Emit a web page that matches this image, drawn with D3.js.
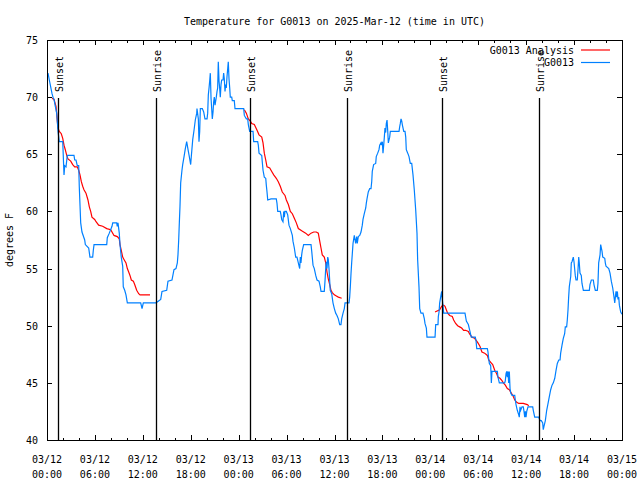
<!DOCTYPE html>
<html><head><meta charset="utf-8">
<script src="https://cdn.jsdelivr.net/npm/d3@7"></script>
<style>
body{margin:0;background:#fff}
svg{display:block}
text{font-family:"DejaVu Sans Mono","Liberation Mono",monospace;font-size:10px;fill:#000}
</style>
</head><body>
<svg id="chart" width="640" height="480"></svg>
<script>
// ---------------- DATA ----------------
const chartTitle = "Temperature for G0013 on 2025-Mar-12 (time in UTC)";
const yLabel = "degrees F";
const seriesNames = ["G0013 Analysis", "G0013"];
const seriesColors = ["#ff0000", "#0080ff"];
const startUTC = Date.UTC(2025, 2, 12, 0, 0);          // 03/12 00:00 UTC
const xTickHours = [0, 6, 12, 18, 24, 30, 36, 42, 48, 54, 60, 66, 72];
const xMinorHours = [2, 4, 8, 10, 14, 16, 20, 22, 26, 28, 32, 34, 38, 40, 44, 46, 50, 52, 56, 58, 62, 64, 68, 70];
const yTicks = [40, 45, 50, 55, 60, 65, 70, 75];
const sunLabels = ["Sunset", "Sunrise", "Sunset", "Sunrise", "Sunset", "Sunrise"];
const sunHours = [1.42, 13.69, 25.46, 37.6, 49.5, 61.65];

// observed G0013 temperature: [hours since 03/12 00:00 UTC, degF]
const observed = [
[0.13,72.1],[0.29,71.5],[0.46,70.9],[0.63,70.3],[0.75,70.0],[0.88,69.8],[1.04,69.2],[1.21,68.6],[1.29,67.9],[1.38,67.0],[1.54,66.1],[1.97,66.1],[2.13,63.2],[2.22,64.0],[2.38,63.9],[2.54,64.9],[3.38,64.9],[3.47,64.5],[3.63,64.5],[3.79,64.0],[3.97,64.0],[4.04,62.2],[4.22,59.0],[4.38,58.2],[4.72,57.5],[4.80,57.1],[5.22,56.8],[5.38,56.0],[5.72,56.0],[5.80,56.6],[5.89,57.1],[7.48,57.1],[7.55,57.7],[7.80,58.1],[8.14,58.7],[8.23,59.0],[8.73,59.0],[8.80,58.7],[8.89,59.0],[9.05,58.1],[9.14,57.1],[9.30,56.0],[9.48,55.2],[9.55,53.4],[9.73,53.1],[9.89,52.7],[10.06,52.0],[11.73,52.0],[11.90,51.5],[12.06,52.0],[13.65,52.0],[14.24,52.3],[14.40,53.0],[14.99,53.1],[15.15,53.9],[15.65,54.0],[15.90,54.9],[16.15,55.0],[16.32,55.5],[16.40,56.2],[16.49,57.5],[16.57,59.0],[16.65,60.4],[16.74,62.5],[16.90,63.6],[16.99,64.1],[17.16,64.8],[17.32,65.5],[17.49,66.1],[17.66,65.4],[17.82,64.8],[17.99,64.1],[18.07,64.8],[18.25,66.3],[18.41,67.1],[18.57,68.0],[18.75,68.6],[18.78,69.0],[18.95,68.1],[19.03,66.1],[19.12,67.0],[19.20,69.0],[19.45,69.0],[19.62,68.7],[19.78,68.1],[20.04,68.1],[20.12,68.6],[20.20,70.2],[20.29,70.8],[20.37,71.4],[20.45,72.1],[20.54,69.9],[20.62,69.0],[20.70,68.1],[20.79,68.7],[20.87,69.6],[20.95,70.0],[21.04,69.3],[21.20,70.0],[21.29,70.5],[21.37,70.8],[21.45,73.1],[21.54,71.4],[21.62,70.8],[21.70,70.0],[21.79,71.1],[21.87,71.5],[22.04,71.5],[22.12,72.1],[22.20,71.6],[22.29,70.5],[22.37,71.1],[22.45,70.8],[22.54,71.8],[22.63,72.5],[22.70,73.1],[22.79,71.6],[22.88,70.8],[22.95,70.0],[23.13,70.0],[23.20,69.7],[23.45,69.7],[23.54,69.0],[24.63,69.0],[24.71,68.4],[24.96,68.1],[25.13,68.1],[25.21,67.6],[25.38,67.0],[25.80,67.0],[25.88,66.1],[26.38,66.1],[26.46,65.8],[26.55,65.1],[26.89,64.9],[26.96,64.3],[27.05,63.6],[27.21,63.0],[27.39,62.9],[27.46,62.3],[27.55,61.7],[27.64,61.0],[28.05,61.1],[28.71,61.1],[28.80,60.7],[28.89,60.0],[29.21,60.0],[29.30,59.7],[29.39,59.3],[29.55,59.1],[29.64,60.0],[29.71,59.5],[29.80,60.0],[29.97,60.0],[30.14,59.7],[30.30,58.8],[30.47,58.5],[30.72,57.9],[30.80,57.4],[30.97,56.8],[31.14,56.0],[31.30,56.0],[31.47,55.5],[31.64,55.0],[31.72,56.0],[31.80,55.5],[31.89,56.2],[31.97,56.6],[32.14,57.1],[33.06,57.1],[33.15,56.5],[33.31,55.3],[33.47,55.0],[33.65,54.4],[33.81,54.0],[34.06,53.9],[34.22,53.4],[34.31,53.0],[34.72,53.0],[34.81,53.9],[34.90,55.0],[34.97,55.6],[35.06,55.0],[35.15,56.0],[35.22,55.8],[35.31,55.0],[35.40,53.9],[35.47,53.1],[35.65,52.8],[35.81,52.0],[35.98,51.5],[36.15,51.1],[36.31,50.9],[36.48,50.6],[36.65,50.1],[36.81,50.1],[36.90,50.6],[37.07,51.1],[37.23,51.5],[37.32,52.0],[37.82,52.0],[37.90,52.5],[37.98,53.4],[38.07,54.6],[38.15,55.5],[38.23,56.3],[38.32,57.2],[38.48,57.9],[38.65,57.2],[38.78,57.8],[38.85,57.2],[38.98,57.8],[39.16,57.9],[39.32,58.2],[39.48,58.8],[39.57,59.3],[39.73,59.8],[39.91,60.3],[39.98,60.7],[40.07,61.1],[40.23,61.7],[40.41,62.0],[40.57,62.0],[40.66,62.6],[40.73,63.5],[40.90,64.1],[41.16,64.2],[41.23,64.8],[41.41,65.1],[41.57,65.4],[41.66,65.8],[41.82,66.0],[41.91,65.8],[41.99,66.1],[42.07,65.1],[42.16,65.8],[42.24,66.5],[42.32,67.3],[42.41,66.9],[42.49,67.7],[42.58,68.0],[42.66,67.1],[42.74,66.0],[42.91,66.5],[42.99,67.0],[44.08,67.0],[44.16,67.4],[44.24,67.7],[44.33,68.1],[44.42,67.9],[44.49,67.6],[44.67,67.0],[44.83,67.0],[44.92,66.5],[44.99,65.4],[45.17,65.1],[45.33,64.8],[45.49,64.2],[45.67,64.2],[45.83,63.2],[45.99,61.9],[46.17,60.1],[46.33,58.1],[46.41,55.8],[46.58,53.4],[46.67,51.5],[46.83,51.1],[47.08,51.1],[47.25,50.6],[47.33,50.2],[47.50,49.8],[47.58,49.0],[48.59,49.0],[48.67,50.1],[48.96,50.1],[49.00,50.8],[49.09,51.2],[49.17,52.0],[49.34,52.7],[49.42,53.0],[49.50,52.3],[49.58,51.8],[49.67,51.1],[52.34,51.1],[52.51,50.4],[52.76,50.1],[52.93,49.6],[53.13,49.0],[53.63,49.0],[53.72,48.7],[53.81,48.0],[55.14,48.0],[55.22,47.7],[55.31,47.1],[55.39,46.7],[55.56,46.5],[55.64,45.0],[55.72,46.0],[56.39,46.0],[56.47,45.5],[56.64,45.0],[57.31,45.0],[57.39,45.2],[57.48,45.8],[57.56,46.0],[57.64,45.5],[57.73,46.0],[57.81,45.0],[57.89,46.0],[57.98,44.5],[58.07,44.1],[58.23,43.9],[58.57,43.9],[58.64,43.5],[58.73,43.1],[58.89,42.6],[59.07,42.2],[59.14,42.0],[59.23,42.9],[59.31,42.6],[59.48,42.9],[59.64,42.9],[59.73,42.5],[59.82,42.0],[59.90,42.5],[59.98,42.0],[60.07,42.5],[60.23,42.9],[60.82,42.9],[60.89,42.6],[61.07,42.0],[61.57,42.0],[61.73,41.7],[61.90,41.7],[62.07,41.5],[62.14,40.9],[62.23,41.2],[62.40,41.7],[62.57,42.6],[62.74,43.2],[62.90,43.8],[63.07,44.4],[63.24,44.8],[63.40,45.0],[63.58,45.4],[63.74,46.1],[63.90,46.7],[64.08,47.0],[64.24,47.0],[64.32,47.6],[64.49,48.3],[64.65,48.9],[64.82,49.3],[64.90,49.9],[65.07,49.9],[65.15,50.5],[65.24,51.4],[65.32,52.5],[65.40,53.4],[65.58,54.3],[65.65,55.5],[65.74,55.6],[65.90,56.0],[65.99,55.6],[66.15,54.4],[66.24,54.0],[66.40,54.0],[66.49,54.9],[66.58,56.0],[66.65,55.5],[66.74,54.6],[66.90,54.4],[66.99,53.7],[67.16,53.1],[67.91,53.1],[67.99,53.6],[68.16,54.0],[68.41,54.0],[68.49,53.6],[68.66,53.1],[68.91,53.1],[68.99,53.7],[69.08,55.5],[69.25,56.2],[69.33,57.1],[69.50,56.5],[69.59,56.0],[69.84,55.9],[69.91,55.5],[70.00,55.2],[70.34,55.0],[70.50,54.6],[70.66,53.9],[70.84,53.3],[71.00,52.5],[71.09,52.0],[71.17,52.5],[71.25,53.0],[71.34,52.5],[71.42,53.0],[71.50,52.3],[71.59,52.5],[71.67,51.8],[71.84,51.2],[72.00,51.0]
];

// analysis runs: [hours, degF]
const analysisRun1 = [
[0.63,69.9],[0.88,69.8],[0.96,69.6],[1.13,69.2],[1.21,68.6],[1.29,67.9],[1.38,67.3],[1.54,67.0],[1.79,66.8],[1.97,66.4],[2.13,65.8],[2.29,65.4],[2.47,64.9],[2.63,64.6],[2.97,64.4],[3.22,64.1],[3.47,63.9],[3.79,63.9],[3.97,63.6],[4.13,63.2],[4.30,62.6],[4.47,62.2],[4.63,61.9],[4.88,61.6],[5.13,61.0],[5.30,60.4],[5.47,60.0],[5.63,59.5],[5.97,59.3],[6.14,59.1],[6.47,58.8],[6.97,58.7],[7.48,58.5],[7.98,58.4],[8.14,58.2],[8.39,57.9],[8.80,57.8],[9.05,57.6],[9.14,57.1],[9.30,56.6],[9.48,56.0],[9.64,55.8],[9.89,55.5],[10.06,55.0],[10.23,54.7],[10.39,54.4],[10.56,54.0],[10.81,53.9],[10.98,53.6],[11.23,53.1],[11.48,52.8],[11.65,52.7],[12.90,52.7]
];
const analysisRun2 = [
[24.71,68.9],[24.96,68.6],[25.21,68.1],[25.46,67.9],[25.63,67.7],[25.96,67.6],[26.30,67.1],[26.55,66.7],[26.89,66.5],[27.05,66.0],[27.21,65.1],[27.39,64.5],[27.55,63.9],[27.89,63.8],[28.14,63.5],[28.39,63.2],[28.71,62.9],[28.96,62.6],[29.21,62.2],[29.46,61.7],[29.80,61.4],[29.97,61.0],[30.22,60.6],[30.47,60.0],[30.72,59.8],[30.97,59.4],[31.22,59.0],[31.47,58.5],[31.89,58.3],[32.39,58.1],[32.72,57.9],[33.06,58.1],[33.40,58.2],[33.72,58.2],[33.97,58.1],[34.15,57.4],[34.31,56.8],[34.47,56.2],[34.72,56.0],[34.90,55.5],[35.06,54.7],[35.22,54.1],[35.40,53.6],[35.56,53.1],[35.72,52.9],[35.98,52.7],[36.23,52.6],[36.48,52.5],[36.90,52.4]
];
const analysisRun3 = [
[48.59,51.2],[49.17,51.4],[49.42,51.7],[49.67,51.8],[49.84,51.7],[50.00,51.4],[50.17,51.1],[50.42,50.9],[50.75,50.8],[50.92,50.5],[51.17,50.2],[51.42,50.0],[51.67,49.9],[51.92,49.8],[52.17,49.6],[52.42,49.6],[52.76,49.5],[52.90,49.3],[53.21,49.0],[53.55,48.9],[53.96,48.5],[54.21,48.2],[54.46,47.7],[54.80,47.6],[55.14,47.4],[55.31,47.0],[55.56,46.8],[55.81,46.6],[56.06,46.1],[56.31,45.8],[56.47,45.5],[56.72,45.4],[56.97,45.2],[57.14,45.0],[57.39,44.8],[57.64,44.5],[57.89,44.4],[58.14,44.1],[58.39,43.8],[58.57,43.5],[58.82,43.3],[59.07,43.2],[59.64,43.2],[60.14,43.1],[60.32,43.0]
];

// ---------------- CHART ----------------
const W = 640, H = 480;
const M = {left: 47, right: 622, top: 40, bottom: 440};
const toDate = h => new Date(startUTC + h * 3600e3);

const x = d3.scaleUtc().domain([toDate(0), toDate(72)]).range([M.left, M.right]);
const y = d3.scaleLinear().domain([40, 75]).range([M.bottom, M.top]);

const svg = d3.select("#chart");
svg.append("rect").attr("width", W).attr("height", H).attr("fill", "#fff");

// title
svg.append("text").attr("x", (M.left + M.right) / 2).attr("y", 25)
  .attr("text-anchor", "middle").text(chartTitle);

// y label
svg.append("text").attr("transform", `translate(13,240) rotate(-90)`)
  .attr("text-anchor", "middle").text(yLabel);

// axes ticks (inward, mirrored)
function styleAxis(g) {
  g.select(".domain").remove();
  g.selectAll("line").attr("stroke", "#000").attr("shape-rendering", "crispEdges");
  g.selectAll("text").remove();
}
const majorDates = xTickHours.map(toDate), minorDates = xMinorHours.map(toDate);
svg.append("g").attr("transform", `translate(0,${M.bottom})`)
  .call(d3.axisBottom(x).tickValues(majorDates).tickSize(-5)).call(styleAxis);
svg.append("g").attr("transform", `translate(0,${M.bottom})`)
  .call(d3.axisBottom(x).tickValues(minorDates).tickSize(-2.5)).call(styleAxis);
svg.append("g").attr("transform", `translate(0,${M.top})`)
  .call(d3.axisTop(x).tickValues(majorDates).tickSize(-5)).call(styleAxis);
svg.append("g").attr("transform", `translate(0,${M.top})`)
  .call(d3.axisTop(x).tickValues(minorDates).tickSize(-2.5)).call(styleAxis);
svg.append("g").attr("transform", `translate(${M.left},0)`)
  .call(d3.axisLeft(y).tickValues(yTicks).tickSize(-5)).call(styleAxis);
svg.append("g").attr("transform", `translate(${M.right},0)`)
  .call(d3.axisRight(y).tickValues(yTicks).tickSize(-5)).call(styleAxis);

// y tick labels
svg.append("g").selectAll("text").data(yTicks).join("text")
  .attr("x", 38).attr("y", d => y(d) + 4).attr("text-anchor", "end").text(d => d);

// x tick labels (two lines)
const fmtDay = d3.utcFormat("%m/%d"), fmtTime = d3.utcFormat("%H:%M");
const xl = svg.append("g").selectAll("g").data(majorDates).join("g");
xl.append("text").attr("x", d => x(d)).attr("y", 463).attr("text-anchor", "middle").text(fmtDay);
xl.append("text").attr("x", d => x(d)).attr("y", 478).attr("text-anchor", "middle").text(fmtTime);

// data lines
const line = d3.line().x(d => x(toDate(d[0]))).y(d => y(d[1]));
const plot = svg.append("g");
[analysisRun1, analysisRun2, analysisRun3].forEach(run => {
  plot.append("path").attr("d", line(run)).attr("fill", "none")
    .attr("stroke", seriesColors[0]).attr("stroke-width", 1.2);
});
plot.append("path").attr("d", line(observed)).attr("fill", "none")
  .attr("stroke", seriesColors[1]).attr("stroke-width", 1.2);

// border
svg.append("rect").attr("x", M.left + 0.5).attr("y", M.top + 0.5)
  .attr("width", M.right - M.left).attr("height", M.bottom - M.top)
  .attr("fill", "none").attr("stroke", "#000").attr("shape-rendering", "crispEdges");

// sunrise / sunset markers
const sun = svg.append("g").selectAll("g").data(sunHours).join("g");
sun.append("line")
  .attr("x1", d => Math.round(x(toDate(d))) + 0.5).attr("x2", d => Math.round(x(toDate(d))) + 0.5)
  .attr("y1", 98).attr("y2", M.bottom)
  .attr("stroke", "#000").attr("stroke-width", 1.3);
sun.append("text")
  .attr("transform", d => `translate(${x(toDate(d)) + 5},92) rotate(-90)`)
  .attr("text-anchor", "start").text((d, i) => sunLabels[i]);

// legend
const legY = [50, 62.5];
const leg = svg.append("g").selectAll("g").data(seriesNames).join("g");
leg.append("text").attr("x", 574).attr("y", (d, i) => legY[i] + 3.8)
  .attr("text-anchor", "end").text(d => d);
leg.append("line").attr("x1", 581).attr("x2", 610)
  .attr("y1", (d, i) => legY[i]).attr("y2", (d, i) => legY[i])
  .attr("stroke", (d, i) => seriesColors[i]).attr("stroke-width", 1.2);
</script>
</body></html>
